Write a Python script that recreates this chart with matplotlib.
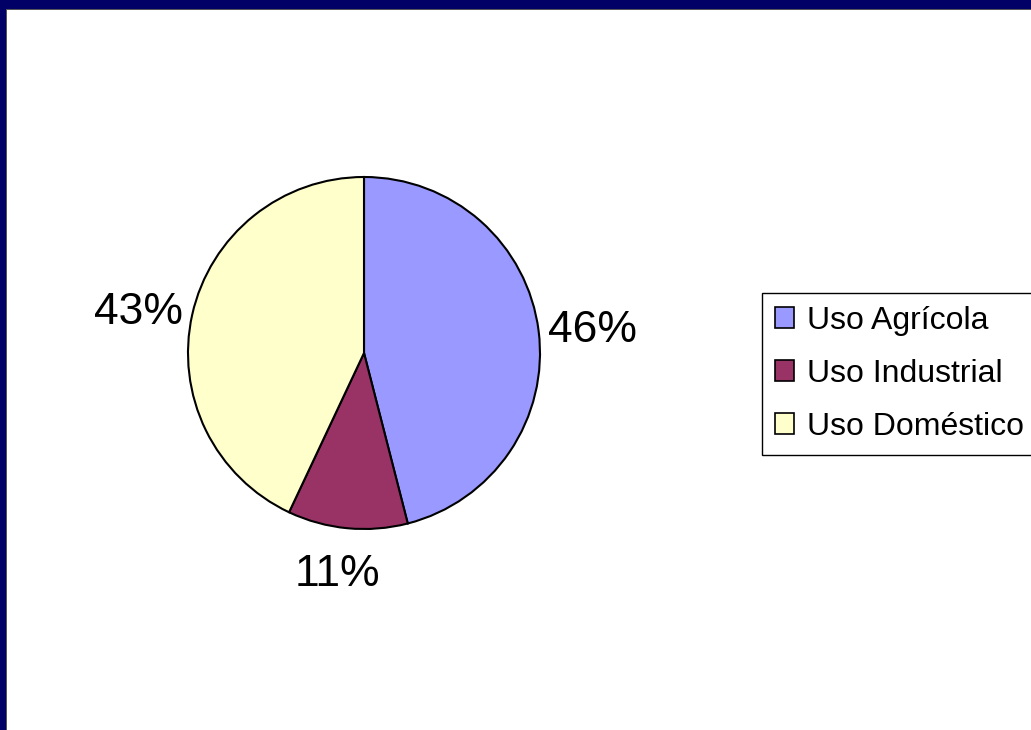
import matplotlib
matplotlib.use("Agg")
import matplotlib.pyplot as plt
from matplotlib.patches import Rectangle
from matplotlib.transforms import offset_copy

plt.rcParams['font.family'] = ['Liberation Sans', 'DejaVu Sans']

categorias = ["Uso Agrícola", "Uso Industrial", "Uso Doméstico"]
porcentajes = [46, 11, 43]
colores = ["#9999FF", "#993366", "#FFFFCC"]

W, H = 1031, 730
fig = plt.figure(figsize=(W / 100, H / 100), dpi=100)
fig.patch.set_facecolor("white")

# navy frame on top and left, like the slide background
navy = "#000066"
fig.patches.append(Rectangle((0, (H - 9) / H), 1, 9 / H, transform=fig.transFigure,
                             facecolor=navy, edgecolor="none", zorder=0))
fig.patches.append(Rectangle((0, 0), 6 / W, 1, transform=fig.transFigure,
                             facecolor=navy, edgecolor="none", zorder=0))
fig.patches.append(Rectangle((6 / W, 0), 1.2 / W, (H - 9) / H, transform=fig.transFigure,
                             facecolor="#555555", edgecolor="none", zorder=0))
fig.patches.append(Rectangle((6 / W, (H - 10.2) / H), 1 - 6 / W, 1.2 / H, transform=fig.transFigure,
                             facecolor="#555555", edgecolor="none", zorder=0))

cx, cy, r = 364, H - 353, 176
ax = fig.add_axes([(cx - r) / W, (cy - r) / H, 2 * r / W, 2 * r / H])
wedges, texts, autotexts = ax.pie(
    porcentajes, colors=colores, startangle=90, counterclock=False,
    autopct='%1.0f%%', pctdistance=1.31,
    wedgeprops=dict(edgecolor="black", linewidth=1.5),
    textprops=dict(fontsize=32, color="black"))
ax.set_xlim(-1, 1)
ax.set_ylim(-1, 1)
ax.set_aspect("equal")

# nudge labels (points) to sit where the original places them
nudges = [(0, -4.5), (-3.5, 6), (0, -7)]
for t, (dx, dy) in zip(autotexts, nudges):
    t.set_transform(offset_copy(ax.transData, fig=fig, x=dx, y=dy, units="points"))

leg = fig.legend(wedges, categorias, loc="upper left",
                 bbox_to_anchor=(762 / W, (H - 293) / H), bbox_transform=fig.transFigure,
                 borderaxespad=0, fontsize=23, frameon=True, fancybox=False,
                 framealpha=1, edgecolor="black", handlelength=0.6, handleheight=0.6,
                 handletextpad=0.4, labelspacing=0.72, borderpad=0.40)
leg.get_frame().set_linewidth(1.0)
for h in leg.legend_handles:
    h.set_linewidth(1.2)

fig.savefig("out.png", dpi=100)
